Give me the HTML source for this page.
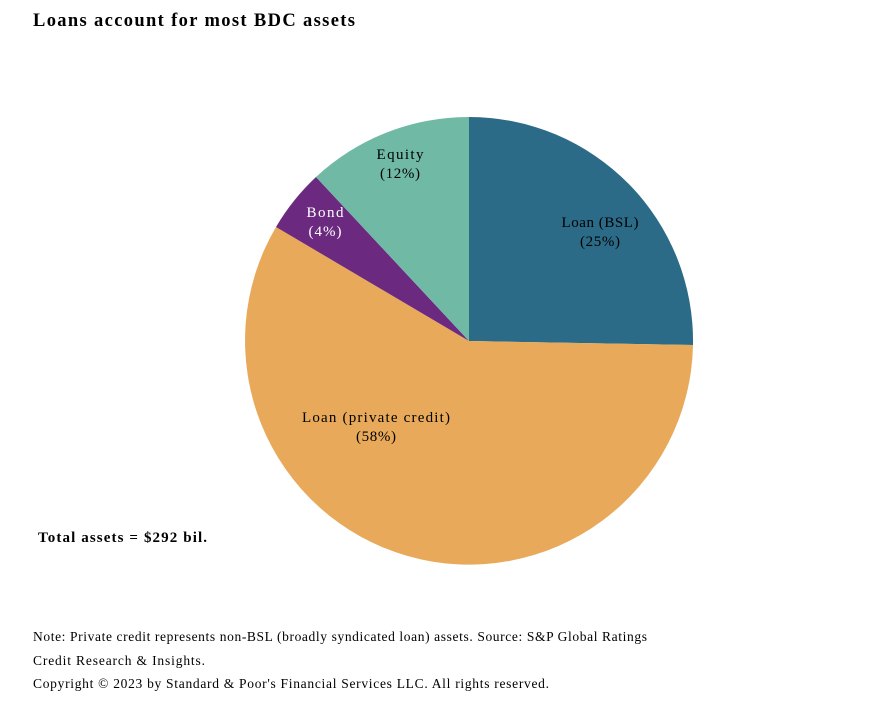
<!DOCTYPE html>
<html><head><style>
body{margin:0;background:#fff;}
svg{display:block;}
text{font-family:"Liberation Serif",serif;}
</style></head><body>
<svg width="888" height="712" viewBox="0 0 888 712" xmlns="http://www.w3.org/2000/svg">
<rect width="888" height="712" fill="#fff"/>
<text x="33" y="26" font-size="18.5" font-weight="bold" fill="#000" textLength="322" lengthAdjust="spacing">Loans account for most BDC assets</text>
<path d="M469,341 L469,117 A224,224 0 0 1 693,345 Z" fill="#2c6b87"/>
<path d="M469,341 L693,345 A224,224 0 1 1 276,227 Z" fill="#e8a95a"/>
<path d="M469,341 L276,227 A224,224 0 0 1 316,177 Z" fill="#6b2a7f"/>
<path d="M469,341 L316,177 A224,224 0 0 1 469,117 Z" fill="#70b9a5"/>
<g font-size="15" text-anchor="middle" fill="#000">
<text x="600" y="227" textLength="77" lengthAdjust="spacing">Loan (BSL)</text>
<text x="600" y="246" textLength="40" lengthAdjust="spacing">(25%)</text>
<text x="376" y="422" textLength="148" lengthAdjust="spacing">Loan (private credit)</text>
<text x="376" y="441" textLength="40" lengthAdjust="spacing">(58%)</text>
<text x="400" y="159" textLength="47" lengthAdjust="spacing">Equity</text>
<text x="400" y="178" textLength="40" lengthAdjust="spacing">(12%)</text>
<text x="325" y="217" fill="#fff" textLength="37" lengthAdjust="spacing">Bond</text>
<text x="325" y="236" fill="#fff" textLength="33" lengthAdjust="spacing">(4%)</text>
</g>
<text x="38" y="542" font-size="15" font-weight="bold" fill="#000" textLength="169" lengthAdjust="spacing">Total assets = $292 bil.</text>
<g font-size="13.5" fill="#000">
<text x="33" y="641" textLength="614" lengthAdjust="spacing">Note: Private credit represents non-BSL (broadly syndicated loan) assets. Source: S&amp;P Global Ratings</text>
<text x="33" y="665" textLength="172" lengthAdjust="spacing">Credit Research &amp; Insights.</text>
<text x="33" y="688" textLength="516" lengthAdjust="spacing">Copyright © 2023 by Standard &amp; Poor's Financial Services LLC. All rights reserved.</text>
</g>
</svg>
</body></html>
